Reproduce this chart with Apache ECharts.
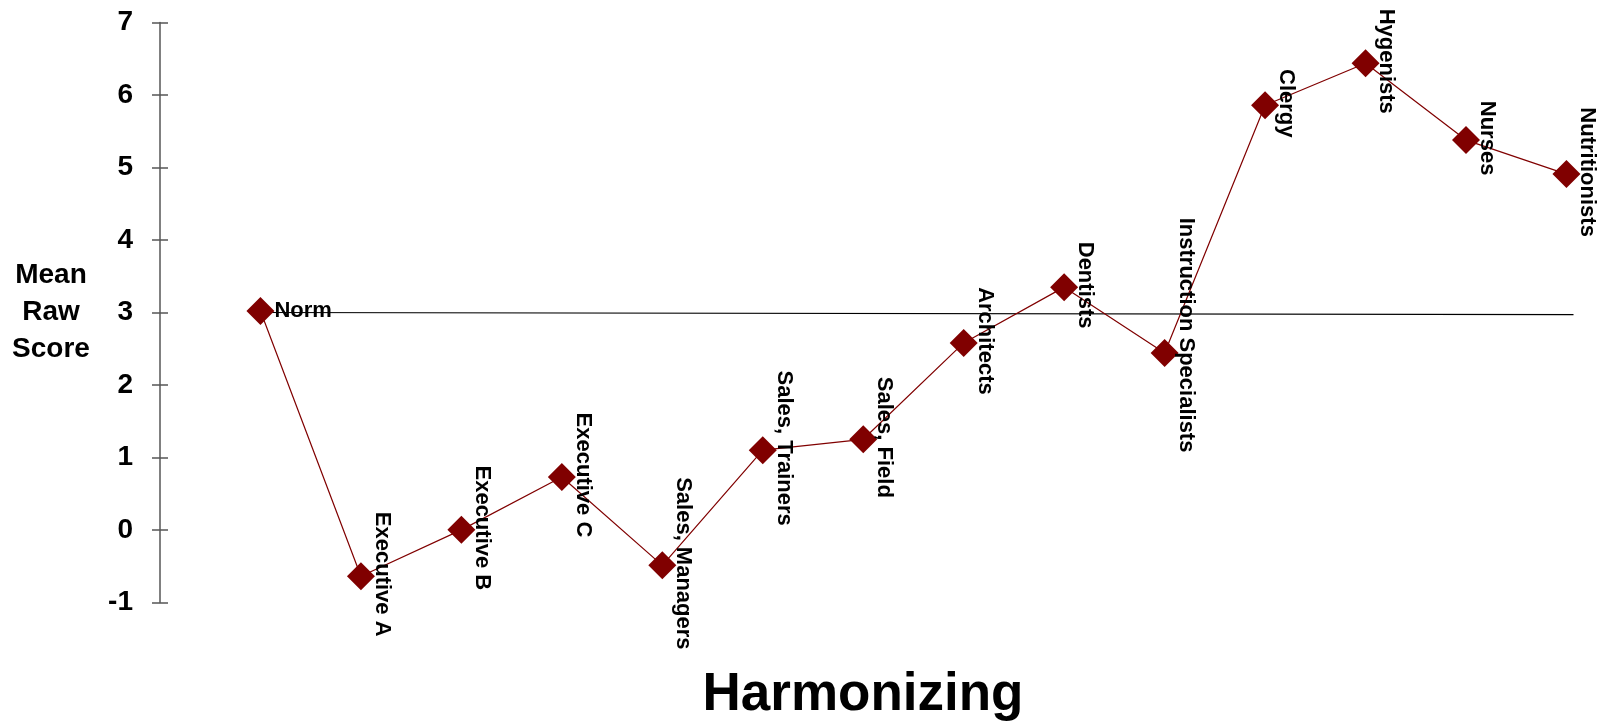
<!DOCTYPE html>
<html>
<head>
<meta charset="utf-8">
<title>Harmonizing</title>
<script src="https://cdn.jsdelivr.net/npm/echarts@6/dist/echarts.min.js"></script>
<style>
  html, body { margin: 0; padding: 0; background: #ffffff; }
  #chart { width: 1604px; height: 725px; }
</style>
</head>
<body>
<div id="chart"></div>
<script>
// Occupational groups, in plotting order
const categories = [
  'Norm', 'Executive A', 'Executive B', 'Executive C', 'Sales, Managers',
  'Sales, Trainers', 'Sales, Field', 'Architects', 'Dentists',
  'Instruction Specialists', 'Clergy', 'Hygenists', 'Nurses', 'Nutritionists'
];
// Mean raw score on the Harmonizing scale
const scores = [3.02, -0.64, 0.0, 0.73, -0.49, 1.10, 1.25, 2.58, 3.35, 2.44, 5.86, 6.44, 5.38, 4.91];
// Reference line for the norm: [start value, end value]
const normLine = [3.0, 2.97];
// Y axis ticks
const yTicks = [-1, 0, 1, 2, 3, 4, 5, 6, 7];

const FONT = '"Liberation Sans", Arial, Helvetica, sans-serif';
const MAROON = '#800000';

// upward nudge (px) of the rotated group labels; default is 2
const labelLift = { 'Instruction Specialists': 18 };

const seriesData = categories.map((name, i) => {
  const item = { name: name, value: [i, scores[i]] };
  if (i === 0) {
    item.label = {
      show: true, position: 'right', distance: 0, rotate: 0,
      formatter: '{b}'
    };
  } else {
    const lift = labelLift[name] !== undefined ? labelLift[name] : 2;
    // right padding in text space becomes an upward shift once rotated
    item.label = {
      show: true, position: 'right', distance: 7, rotate: -90,
      align: 'center', verticalAlign: 'middle',
      padding: [0, lift * 2, 0, 0], formatter: '{b}'
    };
  }
  return item;
});

const chart = echarts.init(document.getElementById('chart'), null, { renderer: 'canvas' });

const yMin = yTicks[0], yMax = yTicks[yTicks.length - 1];
const lastIdx = categories.length - 1;

chart.setOption({
  animation: false,
  backgroundColor: '#ffffff',
  grid: { left: 160, top: 22.7, width: 1436.6, height: 579.6, containLabel: false },
  xAxis: { type: 'value', min: -1, max: 13.3, show: false },
  yAxis: [
    {
      type: 'value', min: yMin, max: yMax, interval: 1, position: 'left',
      axisLine: { show: true, onZero: false, lineStyle: { color: '#808080', width: 2 } },
      axisTick: { show: true, inside: false, length: 8, lineStyle: { color: '#555555', width: 1.5 } },
      axisLabel: { show: true, margin: 27, color: '#000', fontFamily: FONT, fontWeight: 'bold', fontSize: 28 },
      splitLine: { show: false },
      name: 'Mean\nRaw\nScore',
      nameLocation: 'middle', nameRotate: 0, nameGap: 109,
      nameTextStyle: {
        color: '#000', fontFamily: FONT, fontWeight: 'bold',
        fontSize: 28, lineHeight: 37, align: 'center', verticalAlign: 'middle'
      }
    },
    {
      type: 'value', min: yMin, max: yMax, interval: 1, position: 'left',
      axisLine: { show: false, onZero: false },
      axisTick: { show: true, inside: true, length: 8, lineStyle: { color: '#555555', width: 1.5 } },
      axisLabel: { show: false },
      splitLine: { show: false }
    }
  ],
  series: [
    {
      type: 'line',
      name: 'norm',
      data: [[0, normLine[0]], [lastIdx + 0.07, normLine[1]]],
      showSymbol: false, symbol: 'none', silent: true,
      lineStyle: { color: '#000000', width: 1.2 },
      z: 1
    },
    {
      type: 'line',
      name: 'Harmonizing',
      data: seriesData,
      symbol: 'diamond', symbolSize: 28,
      itemStyle: { color: MAROON },
      lineStyle: { color: MAROON, width: 1.2 },
      label: { color: '#000', fontFamily: FONT, fontWeight: 'bold', fontSize: 22 },
      labelLayout: { hideOverlap: false },
      z: 3
    }
  ],
  graphic: [
    {
      type: 'text', x: 863, y: 695,
      style: {
        text: 'Harmonizing', fill: '#000',
        font: 'bold 53px ' + FONT,
        textAlign: 'center', textVerticalAlign: 'middle'
      }
    }
  ]
});
</script>
</body>
</html>
